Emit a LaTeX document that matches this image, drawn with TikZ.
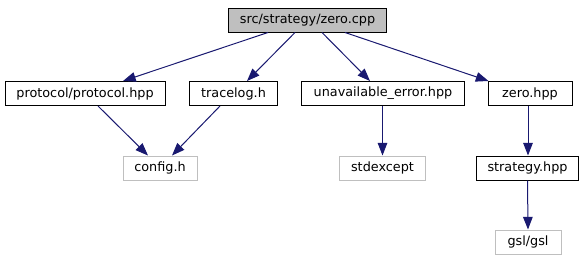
\documentclass[tikz,border=0pt]{standalone}
\usepackage{fontspec}
\setmainfont{DejaVu Sans}
\usetikzlibrary{arrows.meta,calc}
\definecolor{edgeblue}{HTML}{191970}
\definecolor{topfill}{HTML}{BFBFBF}
\definecolor{extgray}{HTML}{BFBFBF}
\begin{document}
\begin{tikzpicture}[x=0.75pt,y=-0.75pt,
  filebox/.style={draw=black,line width=0.75pt,inner sep=0pt,minimum height=18pt,
    font=\fontsize{9.6}{11}\selectfont,text=black},
  rootbox/.style={filebox,fill=topfill},
  extbox/.style={filebox,draw=extgray},
  dep/.style={draw=edgeblue,line width=0.75pt,
    -{Triangle[length=9.5pt,width=7.2pt,fill=edgeblue]}}]
\useasboundingbox (0,0) rectangle (585,261);

% includer
\node[rootbox,minimum width=119pt] (root) at (307.5,20) {src/strategy/zero.cpp};

% direct includes
\node[filebox,minimum width=120pt] (proto) at (85,93.5) {protocol/protocol.hpp};
\node[filebox,minimum width=65.5pt] (trace) at (233.5,93.5) {tracelog.h};
\node[filebox,minimum width=122.5pt] (unav) at (383,93.5) {unavailable\_error.hpp};
\node[filebox,minimum width=63pt] (zero) at (530,93.5) {zero.hpp};

% second level
\node[extbox,minimum width=55.5pt] (config) at (160,168) {config.h};
\node[extbox,minimum width=65pt] (stdex) at (382.5,168) {stdexcept};
\node[filebox,minimum width=77pt] (strat) at (527.5,168) {strategy.hpp};

% third level
\node[extbox,minimum width=49.5pt] (gsl) at (528,242) {gsl/gsl};

% include edges
\draw[dep] ($(root.south)+(-39.5,0)$) -- ($(proto.north)+(38,0)$);
\draw[dep] ($(root.south)+(-12.5,0)$) -- ($(trace.north)+(13.5,0)$);
\draw[dep] ($(root.south)+(14.5,0)$) -- ($(unav.north)+(-13,0)$);
\draw[dep] ($(root.south)+(37.5,0)$) -- ($(zero.north west)+(1,0)$);
\draw[dep] ($(proto.south)+(13,0)$) -- ($(config.north)+(-12,0)$);
\draw[dep] ($(trace.south)+(-13.5,0)$) -- ($(config.north)+(12,0)$);
\draw[dep] ($(unav.south)+(-0.5,0)$) -- (stdex.north);
\draw[dep] ($(zero.south)+(-2,0)$) -- ($(strat.north)+(0.5,0)$);
\draw[dep] (strat.south) -- (gsl.north);
\end{tikzpicture}
\end{document}
